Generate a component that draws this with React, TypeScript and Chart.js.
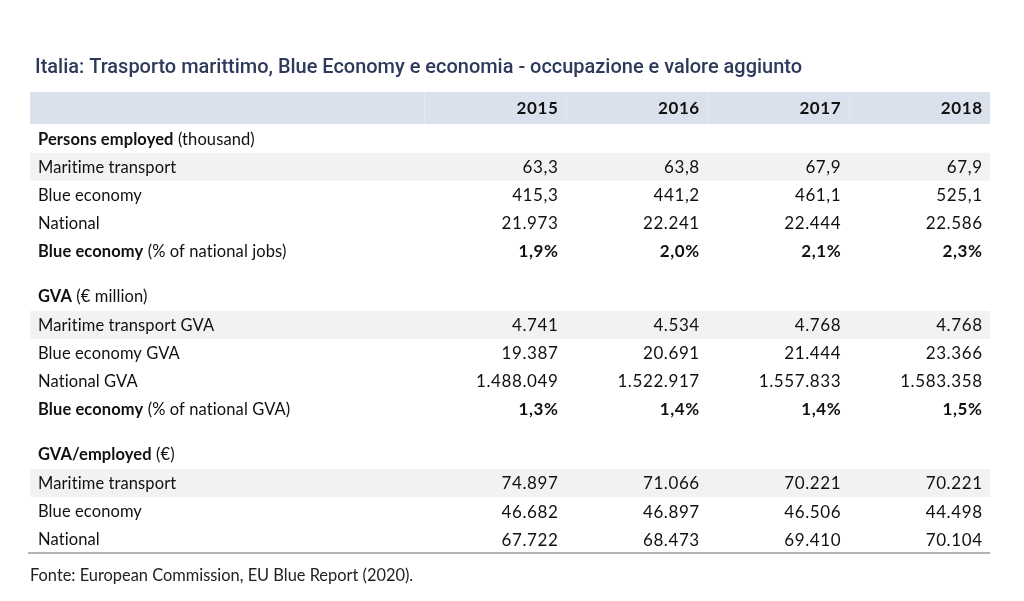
import React, { useEffect, useRef } from 'react';
import { Chart, registerables } from 'chart.js';
Chart.register(...registerables);

const TITLE = 'Italia: Trasporto marittimo, Blue Economy e economia - occupazione e valore aggiunto';
const SOURCE = 'Fonte: European Commission, EU Blue Report (2020).';
const years = ['2015', '2016', '2017', '2018'];

const employedMaritime = [63.3, 63.8, 67.9, 67.9];
const employedBlue = [415.3, 441.2, 461.1, 525.1];
const employedNational = [21973, 22241, 22444, 22586];
const employedShare = [1.9, 2.0, 2.1, 2.3];

const gvaMaritime = [4741, 4534, 4768, 4768];
const gvaBlue = [19387, 20691, 21444, 23366];
const gvaNational = [1488049, 1522917, 1557833, 1583358];
const gvaShare = [1.3, 1.4, 1.4, 1.5];

const perEmployedMaritime = [74897, 71066, 70221, 70221];
const perEmployedBlue = [46682, 46897, 46506, 44498];
const perEmployedNational = [67722, 68473, 69410, 70104];

type Row = {
  bold?: string;
  text?: string;
  values?: number[];
  dec?: number;
  pct?: boolean;
  stripe?: boolean;
  gap: number;
};

const rows: Row[] = [
  { bold: 'Persons employed', text: ' (thousand)', gap: 1.1 },
  { text: 'Maritime transport', values: employedMaritime, dec: 1, stripe: true, gap: 1 },
  { text: 'Blue economy', values: employedBlue, dec: 1, gap: 1 },
  { text: 'National', values: employedNational, dec: 0, gap: 1 },
  { bold: 'Blue economy', text: ' (% of national jobs)', values: employedShare, dec: 1, pct: true, gap: 1 },
  { bold: 'GVA', text: ' (€ million)', gap: 1.6 },
  { text: 'Maritime transport GVA', values: gvaMaritime, dec: 0, stripe: true, gap: 1.04 },
  { text: 'Blue economy GVA', values: gvaBlue, dec: 0, gap: 1 },
  { text: 'National GVA', values: gvaNational, dec: 0, gap: 1 },
  { bold: 'Blue economy', text: ' (% of national GVA)', values: gvaShare, dec: 1, pct: true, gap: 1 },
  { bold: 'GVA/employed', text: ' (€)', gap: 1.6 },
  { text: 'Maritime transport', values: perEmployedMaritime, dec: 0, stripe: true, gap: 1.04 },
  { text: 'Blue economy', values: perEmployedBlue, dec: 0, gap: 1 },
  { text: 'National', values: perEmployedNational, dec: 0, gap: 1 },
];

function fmt(v: number, dec: number, pct?: boolean) {
  const s = v.toFixed(dec);
  const [ip, fp] = s.split('.');
  const grouped = ip.replace(/\B(?=(\d{3})+(?!\d))/g, '.');
  return (fp ? grouped + ',' + fp : grouped) + (pct ? '%' : '');
}

const positions: number[] = [];
{
  let p = 0;
  rows.forEach((r) => {
    p += r.gap;
    positions.push(p);
  });
}
const X_MIN = -2.79;
const X_MAX = 4;
const Y_MIN = -0.568;
const Y_MAX = positions[positions.length - 1] + 0.497;

const FONT = 'Lato, "Open Sans", sans-serif';
const LABEL_SIZE = 16.5;
const VALUE_SIZE = 17;

const tablePlugin = {
  id: 'tablePlugin',
  beforeDatasetsDraw(chart: any) {
    const { ctx, chartArea, scales } = chart;
    const y = scales.y;
    const x = scales.x;
    ctx.save();
    const hTop = y.getPixelForValue(Y_MIN);
    const hBot = y.getPixelForValue(-Y_MIN);
    ctx.fillStyle = '#dae0ec';
    ctx.fillRect(chartArea.left, hTop, chartArea.right - chartArea.left, hBot - hTop);
    ctx.strokeStyle = 'rgba(255,255,255,0.3)';
    ctx.lineWidth = 1;
    for (let k = 0; k < 4; k++) {
      const px = Math.round(x.getPixelForValue(k)) + 0.5;
      ctx.beginPath();
      ctx.moveTo(px, hTop);
      ctx.lineTo(px, hBot);
      ctx.stroke();
    }
    ctx.fillStyle = '#f2f2f2';
    rows.forEach((r, i) => {
      if (!r.stripe) return;
      const t = y.getPixelForValue(positions[i] - 0.5);
      const b = y.getPixelForValue(positions[i] + 0.5);
      ctx.fillRect(chartArea.left, t, chartArea.right - chartArea.left, b - t);
    });
    ctx.strokeStyle = '#9a9a9a';
    ctx.lineWidth = 1.5;
    ctx.beginPath();
    ctx.moveTo(chartArea.left - 2, chartArea.bottom);
    ctx.lineTo(chartArea.right, chartArea.bottom);
    ctx.stroke();
    ctx.restore();
  },
  afterDatasetsDraw(chart: any) {
    const { ctx, chartArea } = chart;
    ctx.save();
    ctx.textBaseline = 'middle';
    ctx.fillStyle = '#111111';
    chart.data.datasets.forEach((ds: any, di: number) => {
      const meta = chart.getDatasetMeta(di);
      meta.data.forEach((el: any, j: number) => {
        const raw = ds.data[j];
        const ty = el.y + 1;
        if (raw.kind === 'label') {
          ctx.letterSpacing = '0.1px';
          let px = el.x + 8;
          if (raw.bold) {
            ctx.font = `bold ${LABEL_SIZE}px ${FONT}`;
            ctx.textAlign = 'left';
            ctx.fillText(raw.bold, px, ty);
            px += ctx.measureText(raw.bold).width;
          }
          if (raw.text) {
            ctx.font = `${LABEL_SIZE}px ${FONT}`;
            ctx.textAlign = 'left';
            ctx.fillText(raw.text, px, ty);
          }
        } else {
          ctx.letterSpacing = '0.6px';
          ctx.font = `${raw.strong ? 'bold ' : ''}${VALUE_SIZE}px ${FONT}`;
          ctx.textAlign = 'right';
          ctx.fillText(raw.text, el.x - 7.4, ty);
        }
      });
    });
    ctx.letterSpacing = '0px';
    ctx.textAlign = 'left';
    ctx.fillStyle = '#2e3a5c';
    ctx.font = '500 20px Roboto, sans-serif';
    ctx.fillText(TITLE, chartArea.left + 5, chartArea.top - 24, 767);
    ctx.fillStyle = '#222222';
    ctx.font = `16.4px ${FONT}`;
    ctx.fillText(SOURCE, chartArea.left, chartArea.bottom + 23);
    ctx.restore();
  },
};

export default function App() {
  const ref = useRef<HTMLCanvasElement | null>(null);
  useEffect(() => {
    if (!ref.current) return;
    const labelData = rows.map((r, i) => ({ x: X_MIN, y: positions[i], kind: 'label', bold: r.bold, text: r.text }));
    const yearSets = years.map((yr, k) => {
      const data: any[] = [{ x: k + 1, y: 0, kind: 'value', text: yr, strong: true }];
      rows.forEach((r, i) => {
        if (r.values) data.push({ x: k + 1, y: positions[i], kind: 'value', text: fmt(r.values[k], r.dec || 0, r.pct), strong: !!r.pct });
      });
      return { label: yr, data, pointRadius: 0, pointHoverRadius: 0, showLine: false };
    });
    const chart = new Chart(ref.current, {
      type: 'scatter',
      data: { datasets: [{ label: 'rows', data: labelData, pointRadius: 0, pointHoverRadius: 0 } as any, ...yearSets] },
      options: {
        animation: false,
        responsive: false,
        events: [],
        layout: { padding: { left: 30, right: 34, top: 92, bottom: 48 } },
        plugins: { legend: { display: false }, tooltip: { enabled: false }, title: { display: false } },
        scales: {
          x: { type: 'linear', display: false, min: X_MIN, max: X_MAX },
          y: { type: 'linear', display: false, reverse: true, min: Y_MIN, max: Y_MAX },
        },
      },
      plugins: [tablePlugin],
    });
    return () => chart.destroy();
  }, []);
  return (
    <div style={{ position: 'fixed', left: 0, top: 0, width: 1024, height: 601, background: '#ffffff' }}>
      <canvas ref={ref} width={1024} height={601} style={{ display: 'block' }} />
    </div>
  );
}
